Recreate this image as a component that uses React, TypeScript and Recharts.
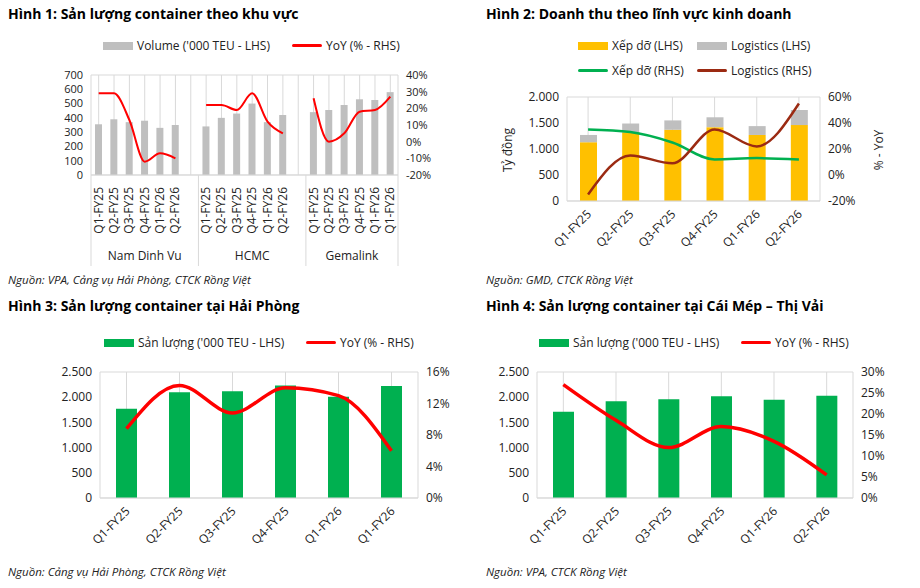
import { ComposedChart, Bar, Line, XAxis, YAxis, CartesianGrid } from 'recharts';

const FONT = '"Open Sans", "Noto Sans", sans-serif';
const GRID = '#d9d9d9';
const TICK = { fontSize: 12, fill: '#222', fontFamily: FONT };
const SMALL_TICK = { fontSize: 11, fill: '#222', fontFamily: FONT };

// Hình 1
const regionQuarters = [
  'Q1-FY25', 'Q2-FY25', 'Q3-FY25', 'Q4-FY25', 'Q1-FY26', 'Q2-FY26', '',
  'Q1-FY25', 'Q2-FY25', 'Q3-FY25', 'Q4-FY25', 'Q1-FY26', 'Q2-FY26', '',
  'Q1-FY25', 'Q2-FY25', 'Q3-FY25', 'Q4-FY25', 'Q1-FY26', 'Q1-FY26',
];
const regionVolume = [355, 390, 370, 380, 330, 350, null, 340, 400, 430, 500, 370, 420, null, 440, 455, 490, 530, 525, 580];
const yoyNamDinhVu = [29, 29, 13, -12, -7, -10];
const yoyHcmc = [22, 22, 19, 29, 12, 5];
const yoyGemalink = [26, 0, 5, 18, 19, 27];
const regionGroups = ['Nam Dinh Vu', 'HCMC', 'Gemalink'];

// Hình 2
const quarters = ['Q1-FY25', 'Q2-FY25', 'Q3-FY25', 'Q4-FY25', 'Q1-FY26', 'Q2-FY26'];
const revHandling = [1130, 1320, 1370, 1420, 1270, 1460];
const revLogistics = [140, 170, 180, 190, 170, 290];
const yoyHandling = [35, 33, 25, 12, 13, 12];
const yoyLogistics = [-15, 15, 9, 35, 22, 55];

// Hình 3
const hpQuarters = ['Q1-FY25', 'Q2-FY25', 'Q3-FY25', 'Q4-FY25', 'Q1-FY26', 'Q1-FY26'];
const hpVolume = [1770, 2100, 2120, 2230, 2010, 2220];
const hpYoy = [8.8, 14.3, 10.8, 14.0, 13.0, 6.0];

// Hình 4
const cmVolume = [1710, 1920, 1960, 2020, 1950, 2030];
const cmYoy = [27, 18.5, 12, 17, 13.5, 5.5];

const regionData = regionQuarters.map((q, i) => ({
  q,
  vol: regionVolume[i],
  a: i < 6 ? yoyNamDinhVu[i] : null,
  b: i >= 7 && i < 13 ? yoyHcmc[i - 7] : null,
  c: i >= 14 ? yoyGemalink[i - 14] : null,
}));
const revData = quarters.map((q, i) => ({ q, h: revHandling[i], l: revLogistics[i], yh: yoyHandling[i], yl: yoyLogistics[i] }));
const hpData = hpQuarters.map((q, i) => ({ q, v: hpVolume[i], y: hpYoy[i] }));
const cmData = quarters.map((q, i) => ({ q, v: cmVolume[i], y: cmYoy[i] }));

const thousands = (v: number) => String(v).replace(/\B(?=(\d{3})+(?!\d))/g, '.');
const pct = (v: number) => `${v}%`;

const RegionTick = ({ x, y, payload, index }: any) => {
  const half = 307 / 40;
  return (
    <g>
      <text x={x + 4} y={y + 4} transform={`rotate(-90 ${x + 4} ${y + 4})`} textAnchor="end" {...TICK}>{payload.value}</text>
      {(index === 0 || index === 7 || index === 14) && (
        <line x1={x - half} x2={x - half} y1={y - 8} y2={y + 83} stroke={GRID} />
      )}
      {index === 19 && <line x1={x + half} x2={x + half} y1={y - 8} y2={y + 83} stroke={GRID} />}
      {index === 3 && <text x={x} y={y + 77} textAnchor="middle" {...TICK}>{regionGroups[0]}</text>}
      {index === 10 && <text x={x} y={y + 77} textAnchor="middle" {...TICK}>{regionGroups[1]}</text>}
      {index === 16 && <text x={x + half} y={y + 77} textAnchor="middle" {...TICK}>{regionGroups[2]}</text>}
    </g>
  );
};

const SlantTick = ({ x, y, payload }: any) => (
  <text x={x + 4} y={y + 6} transform={`rotate(-45 ${x + 4} ${y + 6})`} textAnchor="end" {...TICK}>{payload.value}</text>
);

const Title = ({ x, y, children }: any) => (
  <div style={{ position: 'absolute', left: x, top: y, fontWeight: 700, fontSize: 14, fontFamily: FONT, whiteSpace: 'nowrap' }}>{children}</div>
);
const Source = ({ x, y, children }: any) => (
  <div style={{ position: 'absolute', left: x, top: y, fontStyle: 'italic', fontSize: 11.5, fontFamily: FONT, whiteSpace: 'nowrap', color: '#222' }}>{children}</div>
);
const Key = ({ x, y, color, line, children }: any) => (
  <div style={{ position: 'absolute', left: x, top: y, display: 'flex', alignItems: 'center', fontSize: 12, fontFamily: FONT, whiteSpace: 'nowrap', color: '#222' }}>
    <span style={{ display: 'inline-block', width: 30, height: line ? 3 : 8, background: color, marginRight: 4, borderRadius: line ? 2 : 0 }} />
    {children}
  </div>
);
const Rotated = ({ x, y, children }: any) => (
  <div style={{ position: 'absolute', left: x, top: y, transform: 'translate(-50%, -50%) rotate(-90deg)', fontSize: 12, fontFamily: FONT, whiteSpace: 'nowrap', color: '#222' }}>{children}</div>
);

export default function App() {
  return (
    <div style={{ position: 'fixed', left: 0, top: 0, width: 920, height: 588, background: '#fff', overflow: 'hidden' }}>
      <Title x={8} y={4}>Hình 1: Sản lượng container theo khu vực</Title>
      <Title x={486} y={4}>Hình 2: Doanh thu theo lĩnh vực kinh doanh</Title>
      <Title x={8} y={296}>Hình 3: Sản lượng container tại Hải Phòng</Title>
      <Title x={486} y={296}>Hình 4: Sản lượng container tại Cái Mép – Thị Vải</Title>

      <Key x={103} y={37} color="#bfbfbf">Volume ('000 TEU - LHS)</Key>
      <Key x={292} y={37} color="#ff0000" line>YoY (% - RHS)</Key>
      <Key x={578} y={37} color="#ffc000">Xếp dỡ (LHS)</Key>
      <Key x={697} y={37} color="#bfbfbf">Logistics (LHS)</Key>
      <Key x={578} y={62} color="#00b050" line>Xếp dỡ (RHS)</Key>
      <Key x={697} y={62} color="#9b2a12" line>Logistics (RHS)</Key>
      <Key x={104} y={334} color="#00b050">Sản lượng ('000 TEU - LHS)</Key>
      <Key x={306} y={334} color="#ff0000" line>YoY (% - RHS)</Key>
      <Key x={539} y={334} color="#00b050">Sản lượng ('000 TEU - LHS)</Key>
      <Key x={741} y={334} color="#ff0000" line>YoY (% - RHS)</Key>

      <Rotated x={507} y={150}>Tỷ đồng</Rotated>
      <Rotated x={878} y={150}>% - YoY</Rotated>

      <div style={{ position: 'absolute', left: 0, top: 60 }}>
        <ComposedChart width={460} height={210} data={regionData} margin={{ top: 15, right: 17, bottom: 0, left: 40 }}>
          <CartesianGrid stroke={GRID} />
          <XAxis dataKey="q" interval={0} height={95} tick={<RegionTick />} tickLine={false} axisLine={{ stroke: GRID }} />
          <YAxis yAxisId="l" width={51} interval={0} domain={[0, 700]} ticks={[0, 100, 200, 300, 400, 500, 600, 700]} tick={SMALL_TICK} tickLine={false} axisLine={false} />
          <YAxis yAxisId="r" orientation="right" width={45} interval={0} domain={[-20, 40]} ticks={[-20, -10, 0, 10, 20, 30, 40]} tickFormatter={pct} tick={SMALL_TICK} tickLine={false} axisLine={false} />
          <Bar yAxisId="l" dataKey="vol" fill="#bfbfbf" barSize={7} isAnimationActive={false} />
          <Line yAxisId="r" type="monotone" dataKey="a" stroke="#ff0000" strokeWidth={2} dot={false} isAnimationActive={false} />
          <Line yAxisId="r" type="monotone" dataKey="b" stroke="#ff0000" strokeWidth={2} dot={false} isAnimationActive={false} />
          <Line yAxisId="r" type="monotone" dataKey="c" stroke="#ff0000" strokeWidth={2} dot={false} isAnimationActive={false} />
        </ComposedChart>
      </div>

      <div style={{ position: 'absolute', left: 460, top: 85 }}>
        <ComposedChart width={460} height={185} data={revData} margin={{ top: 12, right: 55, bottom: 0, left: 55 }}>
          <CartesianGrid stroke={GRID} />
          <XAxis dataKey="q" interval={0} height={69} tick={<SlantTick />} tickLine={false} axisLine={{ stroke: GRID }} />
          <YAxis yAxisId="l" width={52} interval={0} domain={[0, 2000]} ticks={[0, 500, 1000, 1500, 2000]} tickFormatter={thousands} tick={TICK} tickLine={false} axisLine={false} />
          <YAxis yAxisId="r" orientation="right" width={45} interval={0} domain={[-20, 60]} ticks={[-20, 0, 20, 40, 60]} tickFormatter={pct} tick={TICK} tickLine={false} axisLine={false} />
          <Bar yAxisId="l" dataKey="h" stackId="s" fill="#ffc000" barSize={17} isAnimationActive={false} />
          <Bar yAxisId="l" dataKey="l" stackId="s" fill="#bfbfbf" barSize={17} isAnimationActive={false} />
          <Line yAxisId="r" type="monotone" dataKey="yh" stroke="#00b050" strokeWidth={2.5} dot={false} isAnimationActive={false} />
          <Line yAxisId="r" type="monotone" dataKey="yl" stroke="#9b2a12" strokeWidth={2.5} dot={false} isAnimationActive={false} />
        </ComposedChart>
      </div>

      <div style={{ position: 'absolute', left: 0, top: 355 }}>
        <ComposedChart width={460} height={215} data={hpData} margin={{ top: 17, right: 0, bottom: 0, left: 45 }}>
          <CartesianGrid stroke={GRID} />
          <XAxis dataKey="q" interval={0} height={72} tick={<SlantTick />} tickLine={false} axisLine={{ stroke: GRID }} />
          <YAxis yAxisId="l" width={55} interval={0} domain={[0, 2500]} ticks={[0, 500, 1000, 1500, 2000, 2500]} tickFormatter={thousands} tick={TICK} tickLine={false} axisLine={false} />
          <YAxis yAxisId="r" orientation="right" width={42} interval={0} domain={[0, 16]} ticks={[0, 4, 8, 12, 16]} tickFormatter={pct} tick={TICK} tickLine={false} axisLine={false} />
          <Bar yAxisId="l" dataKey="v" fill="#00b050" barSize={21} isAnimationActive={false} />
          <Line yAxisId="r" type="monotone" dataKey="y" stroke="#ff0000" strokeWidth={3.5} dot={false} isAnimationActive={false} />
        </ComposedChart>
      </div>

      <div style={{ position: 'absolute', left: 460, top: 355 }}>
        <ComposedChart width={460} height={215} data={cmData} margin={{ top: 17, right: 22, bottom: 0, left: 22 }}>
          <CartesianGrid stroke={GRID} />
          <XAxis dataKey="q" interval={0} height={72} tick={<SlantTick />} tickLine={false} axisLine={{ stroke: GRID }} />
          <YAxis yAxisId="l" width={55} interval={0} domain={[0, 2500]} ticks={[0, 500, 1000, 1500, 2000, 2500]} tickFormatter={thousands} tick={TICK} tickLine={false} axisLine={false} />
          <YAxis yAxisId="r" orientation="right" width={45} interval={0} domain={[0, 30]} ticks={[0, 5, 10, 15, 20, 25, 30]} tickFormatter={pct} tick={TICK} tickLine={false} axisLine={false} />
          <Bar yAxisId="l" dataKey="v" fill="#00b050" barSize={21} isAnimationActive={false} />
          <Line yAxisId="r" type="monotone" dataKey="y" stroke="#ff0000" strokeWidth={3.5} dot={false} isAnimationActive={false} />
        </ComposedChart>
      </div>

      <Source x={8} y={272}>Nguồn: VPA, Cảng vụ Hải Phòng, CTCK Rồng Việt</Source>
      <Source x={486} y={272}>Nguồn: GMD, CTCK Rồng Việt</Source>
      <Source x={8} y={564}>Nguồn: Cảng vụ Hải Phòng, CTCK Rồng Việt</Source>
      <Source x={486} y={564}>Nguồn: VPA, CTCK Rồng Việt</Source>
    </div>
  );
}
